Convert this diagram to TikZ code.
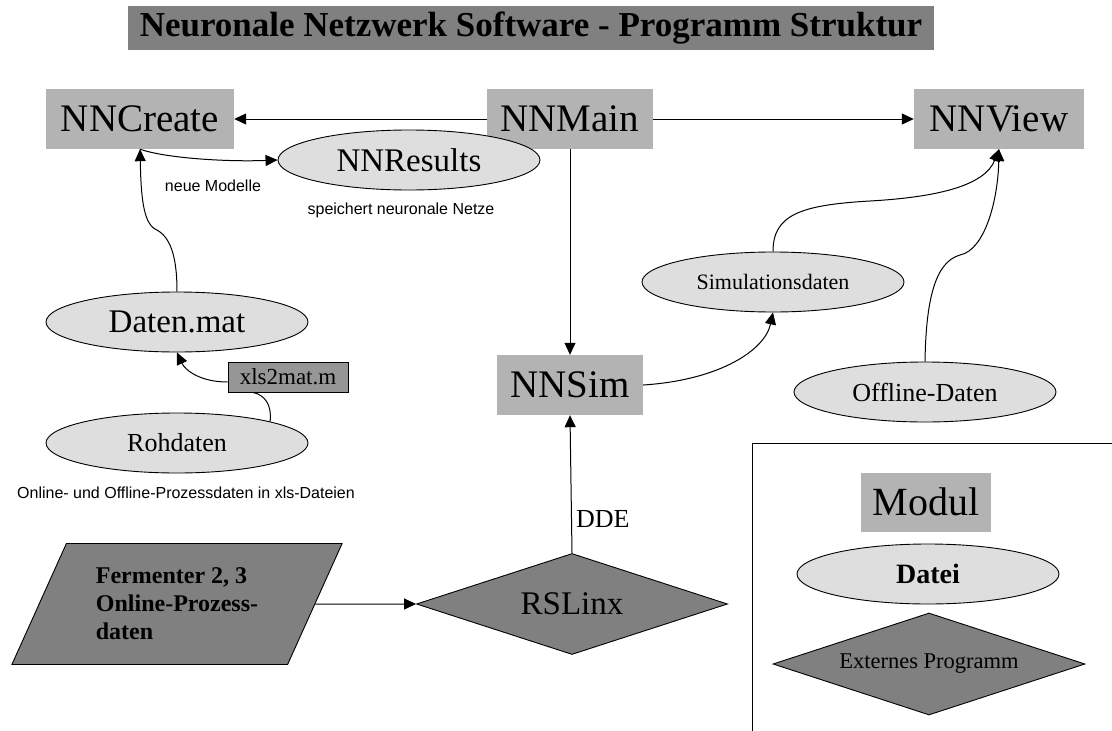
\documentclass[tikz,border=0pt]{standalone}
\usepackage{fontspec}
\setmainfont{Liberation Serif}
\newfontfamily\labelsans{Liberation Sans}
\usetikzlibrary{shapes.geometric,arrows.meta}

\definecolor{modgray}{RGB}{179,179,179}
\definecolor{filegray}{RGB}{222,222,222}
\definecolor{extgray}{RGB}{128,128,128}
\definecolor{toolgray}{RGB}{150,150,150}

\begin{document}
\begin{tikzpicture}[x=1pt,y=-1pt,
  module/.style={fill=modgray, inner sep=0pt, minimum height=60pt,
    font=\fontsize{39}{40}\selectfont},
  datafile/.style={ellipse, draw=black, line width=0.9pt, fill=filegray,
    minimum width=262pt, minimum height=60pt, inner sep=0pt},
  extprog/.style={diamond, aspect=3, draw=black, fill=extgray,
    line width=0.9pt, inner sep=0pt},
  link/.style={draw=black, line width=1pt,
    -{Triangle[length=12pt,width=11pt]}},
  note/.style={font=\labelsans\fontsize{16}{16}\selectfont}
]
\useasboundingbox[fill=white] (0,0) rectangle (1112,731);

% title bar
\node[fill=extgray, minimum width=806pt, minimum height=44pt, inner sep=0pt,
  font=\bfseries\fontsize{35}{35}\selectfont] (title) at (531,28)
  {Neuronale Netzwerk Software - Programm Struktur};

% program modules
\node[module, minimum width=188pt] (create) at (140,119) {NNCreate};
\node[module, minimum width=166pt] (main)   at (570,119) {NNMain};
\node[module, minimum width=170pt] (view)   at (999,119) {NNView};
\node[module, minimum width=146pt] (sim)    at (570,385) {NNSim};

% data files
\node[datafile, font=\fontsize{33}{33}\selectfont] (results) at (409,160) {NNResults};
\node[datafile, font=\fontsize{33}{33}\selectfont] (daten)   at (177,322) {Daten.mat};
\node[datafile, font=\fontsize{26}{26}\selectfont] (roh)     at (177,443) {Rohdaten};
\node[datafile, font=\fontsize{22}{22}\selectfont] (simdat)  at (773,282) {Simulationsdaten};
\node[datafile, font=\fontsize{26}{26}\selectfont] (offline) at (925,392) {Offline-Daten};

% converter script
\node[draw=black, line width=0.9pt, fill=toolgray, minimum width=120pt,
  minimum height=30pt, inner sep=0pt, font=\fontsize{23}{23}\selectfont]
  (xls) at (288,377) {xls2mat.m};

% notes
\node[note] (neue)      at (213,186) {neue Modelle};
\node[note] (speichert) at (401,210) {speichert neuronale Netze};
\node[note] (online)    at (186,493) {Online- und Offline-Prozessdaten in xls-Dateien};

% process data source
\node[trapezium, trapezium left angle=61, trapezium right angle=119,
  trapezium stretches=true, minimum width=331pt, minimum height=121pt,
  draw=black, line width=0.9pt, fill=extgray, inner sep=0pt, align=left,
  font=\bfseries\fontsize{24}{28}\selectfont] (ferm) at (177,604)
  {Fermenter 2, 3\\Online-Prozess-\\daten};

% external program
\node[extprog, minimum width=311pt, minimum height=101pt,
  font=\fontsize{33}{33}\selectfont] (rslinx) at (572,604) {RSLinx};

% connectors
\draw[link] (main.west) -- (create.east);
\draw[link] (main.east) -- (view.west);
\draw[link] (main.south) -- (sim.north);
\draw[link] (create.south) .. controls (165,158) and (225,162) .. (results.west);
\draw[link] (daten.north) .. controls (177,255) and (170,236) .. (155,229)
  .. controls (143,222) and (141,195) .. (create.south);
\draw[line width=1pt] (roh.13) .. controls (272,405) and (265,395) .. ([xshift=-35pt]xls.south);
\draw[link] ([yshift=-5pt]xls.west) .. controls (200,382) and (185,370) .. (daten.south);
\draw[link] (rslinx.north) -- node[pos=0.25, anchor=west, inner sep=4pt,
  font=\fontsize{26}{26}\selectfont] {DDE} (sim.south);
\draw[link] (ferm.east) -- (rslinx.west);
\draw[link] (sim.east) .. controls (720,380) and (765,350) .. (simdat.south);
\draw[link] (simdat.north) .. controls (773,215) and (800,205) .. (870,201)
  .. controls (940,197) and (985,185) .. (view.south);
\draw[link] (offline.north) .. controls (926,300) and (935,262) .. (960,255)
  .. controls (985,250) and (998,200) .. (view.south);

% legend
\draw[line width=0.9pt] (752,443) rectangle (1140,760);
\node[module, minimum width=130pt, minimum height=59pt,
  font=\fontsize{40}{40}\selectfont] (modul) at (926,502) {Modul};
\node[datafile, font=\bfseries\fontsize{28}{28}\selectfont] (datei) at (928,574) {Datei};
\node[extprog, minimum width=312pt, minimum height=102pt,
  font=\fontsize{22.5}{22.5}\selectfont] (extern) at (929,664) {Externes Programm};
\end{tikzpicture}
\end{document}
